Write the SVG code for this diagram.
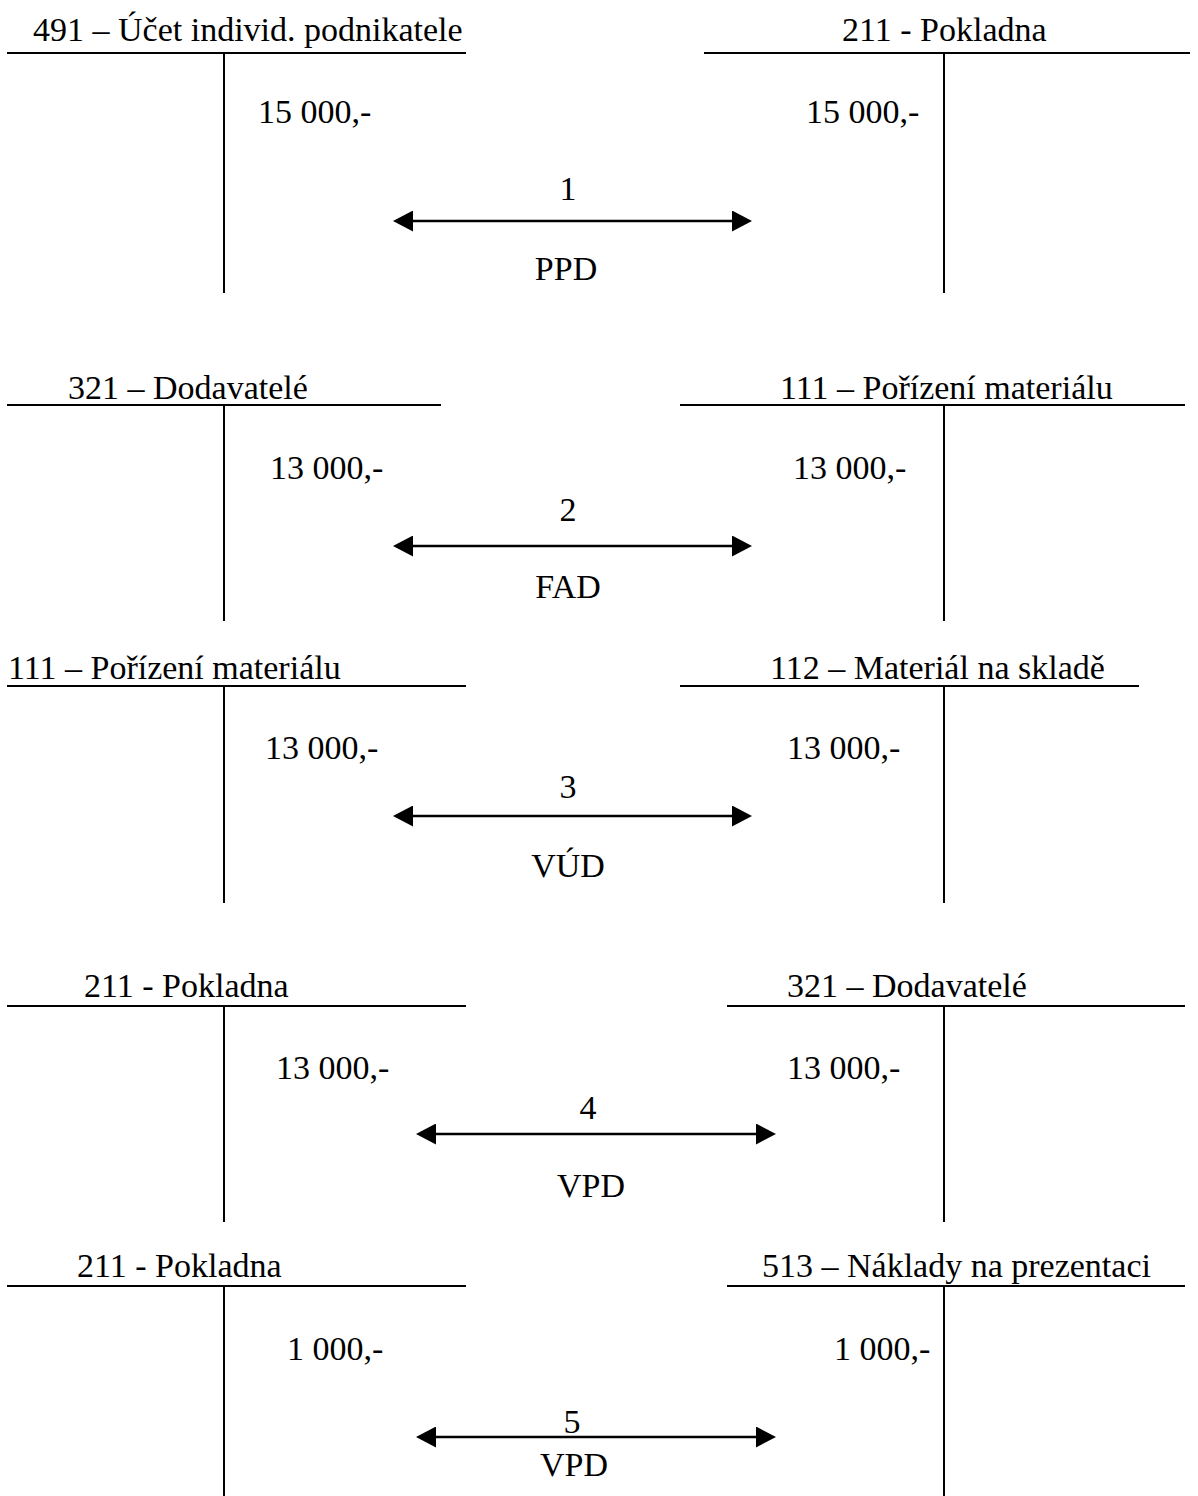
<svg xmlns="http://www.w3.org/2000/svg" width="1198" height="1496" viewBox="0 0 1198 1496">
<defs>
<style>
text{font-family:"Liberation Serif","Times New Roman",serif;font-size:34px;fill:#000}
.m{text-anchor:middle}
.ln{stroke:#000;stroke-width:2;fill:none}
.ar{stroke:#000;stroke-width:2.5;fill:none;marker-start:url(#ah);marker-end:url(#ah)}
</style>
<marker id="ah" viewBox="0 0 20 21" refX="16" refY="10.5" markerWidth="20" markerHeight="21" markerUnits="userSpaceOnUse" orient="auto-start-reverse">
<path d="M0,0 L20,10.5 L0,21 Z" fill="#000"/>
</marker>
</defs>
<rect width="1198" height="1496" fill="#fff"/>

<g id="acc491">
<line class="ln" x1="7" y1="53" x2="466" y2="53"/>
<line class="ln" x1="224" y1="53" x2="224" y2="293"/>
<text x="33" y="41">491 – Účet individ. podnikatele</text>
<text x="258" y="123">15 000,-</text>
</g>
<g id="acc211a">
<line class="ln" x1="704" y1="53" x2="1190" y2="53"/>
<line class="ln" x1="944" y1="53" x2="944" y2="293"/>
<text x="842" y="41">211 - Pokladna</text>
<text x="806" y="123">15 000,-</text>
</g>

<g id="acc321a">
<line class="ln" x1="7" y1="405" x2="441" y2="405"/>
<line class="ln" x1="224" y1="405" x2="224" y2="621"/>
<text x="68" y="399">321 – Dodavatelé</text>
<text x="270" y="479">13 000,-</text>
</g>
<g id="acc111a">
<line class="ln" x1="680" y1="405" x2="1185" y2="405"/>
<line class="ln" x1="944" y1="405" x2="944" y2="621"/>
<text x="780" y="399">111 – Pořízení materiálu</text>
<text x="793" y="479">13 000,-</text>
</g>

<g id="acc111b">
<line class="ln" x1="7" y1="686" x2="466" y2="686"/>
<line class="ln" x1="224" y1="686" x2="224" y2="903"/>
<text x="8" y="679">111 – Pořízení materiálu</text>
<text x="265" y="759">13 000,-</text>
</g>
<g id="acc112">
<line class="ln" x1="680" y1="686" x2="1139" y2="686"/>
<line class="ln" x1="944" y1="686" x2="944" y2="903"/>
<text x="770" y="679">112 – Materiál na skladě</text>
<text x="787" y="759">13 000,-</text>
</g>

<g id="acc211b">
<line class="ln" x1="7" y1="1006" x2="466" y2="1006"/>
<line class="ln" x1="224" y1="1006" x2="224" y2="1222"/>
<text x="84" y="997">211 - Pokladna</text>
<text x="276" y="1079">13 000,-</text>
</g>
<g id="acc321b">
<line class="ln" x1="727" y1="1006" x2="1185" y2="1006"/>
<line class="ln" x1="944" y1="1006" x2="944" y2="1222"/>
<text x="787" y="997">321 – Dodavatelé</text>
<text x="787" y="1079">13 000,-</text>
</g>

<g id="acc211c">
<line class="ln" x1="7" y1="1286" x2="466" y2="1286"/>
<line class="ln" x1="224" y1="1286" x2="224" y2="1496"/>
<text x="77" y="1277">211 - Pokladna</text>
<text x="287" y="1360">1 000,-</text>
</g>
<g id="acc513">
<line class="ln" x1="727" y1="1286" x2="1185" y2="1286"/>
<line class="ln" x1="944" y1="1286" x2="944" y2="1496"/>
<text x="762" y="1277">513 – Náklady na prezentaci</text>
<text x="834" y="1360">1 000,-</text>
</g>

<g id="connectors">
<line class="ar" x1="397" y1="221" x2="748" y2="221"/>
<text class="m" x="568" y="200">1</text>
<text class="m" x="566" y="280">PPD</text>

<line class="ar" x1="397" y1="546" x2="748" y2="546"/>
<text class="m" x="568" y="521">2</text>
<text class="m" x="568" y="598">FAD</text>

<line class="ar" x1="397" y1="816" x2="748" y2="816"/>
<text class="m" x="568" y="798">3</text>
<text class="m" x="568" y="877">VÚD</text>

<line class="ar" x1="420" y1="1134" x2="772" y2="1134"/>
<text class="m" x="588" y="1119">4</text>
<text class="m" x="591" y="1197">VPD</text>

<line class="ar" x1="420" y1="1437" x2="772" y2="1437"/>
<text class="m" x="572" y="1433">5</text>
<text class="m" x="574" y="1476">VPD</text>
</g>
</svg>
